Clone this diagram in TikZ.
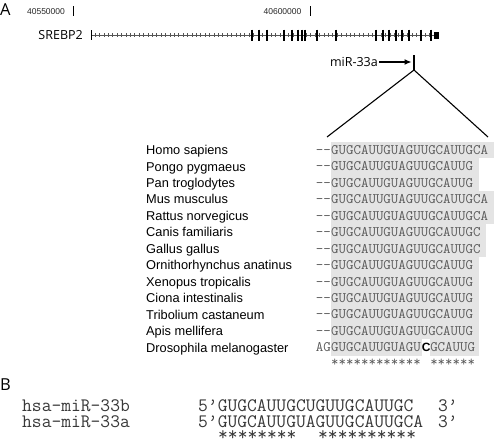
\documentclass[tikz,border=0pt]{standalone}
\usepackage{fontspec}
\setmainfont{Liberation Sans}
\newfontfamily\osans{Open Sans}
\newfontfamily\arialf{Liberation Sans}
\usetikzlibrary{arrows.meta}
\definecolor{seqgray}{HTML}{5A5A5A}
\definecolor{hlgray}{HTML}{E4E4E4}
\definecolor{bgray}{HTML}{383838}
\definecolor{genegray}{HTML}{555555}
\tikzset{
  species/.style={anchor=base west, inner sep=0, font=\arialf\fontsize{12.8}{12.8}\selectfont},
  seq/.style={anchor=base west, inner sep=0, text=seqgray, font=\ttfamily\fontsize{14.5}{14.5}\selectfont},
  bseq/.style={anchor=base west, inner sep=0, text=bgray, font=\ttfamily\fontsize{19}{19}\selectfont},
  panel/.style={anchor=base west, inner sep=0, font=\osans\fontsize{16.5}{16.5}\selectfont},
  glabel/.style={inner sep=0, font=\osans\fontsize{12.5}{12.5}\selectfont},
  coordlab/.style={inner sep=0, text=black!85, font=\arialf\fontsize{8.5}{8.5}\selectfont},
  backbone/.style={draw=genegray, line width=0.8pt},
  strandtick/.style={draw=genegray, line width=0.6pt},
  exon/.style={draw=black, line width=1.1pt},
  bigexon/.style={draw=black, line width=2.2pt},
  fan/.style={draw=black, line width=1.1pt},
  pointer/.style={draw=black, line width=1.2pt, -{Latex[length=7pt,width=6pt]}},
}
\begin{document}
\begin{tikzpicture}[x=1pt,y=-1pt]
\useasboundingbox (0,0) rectangle (496,442);
% panel labels
\node[panel] (pA) at (0,15) {A};
\node[panel] (pB) at (0,390) {B};
% genomic coordinates
\node[coordlab] (c1) at (46,12) {40550000};
\draw[line width=1pt] (73,6) -- (73,16);
\node[coordlab] (c2) at (282.5,12) {40600000};
\draw[line width=1pt] (310,6) -- (310,16);
% gene
\node[glabel, anchor=base east] (gene) at (83,39.5) {SREBP2};
\coordinate (g0) at (91,35);
\coordinate (g1) at (436,35);
\draw[backbone] (g0) -- (g1);
\foreach \x in {95,99.4,...,433} \draw[strandtick] (\x,33.2) -- (\x,36.8);
\draw[line width=1.6pt] (91.5,30) -- (91.5,40);
\foreach \x in {259,267,284,298,302,305,336,376,383,389,396,402,409,421,431}
  \draw[exon] (\x,29.5) -- (\x,40.5);
\foreach \x in {252,292,317}
  \draw[bigexon] (\x,29.5) -- (\x,40.5);
\fill (434,31.5) rectangle (438.5,38.5);
% miR-33a marker
\node[glabel, anchor=east] (mir) at (378,62) {miR-33a};
\coordinate (ticktop) at (414,55);
\coordinate (apex) at (414,70);
\coordinate (arrowend) at (411.5,62);
\coordinate (fanL) at (327,137);
\coordinate (fanR) at (488,137);
\draw[pointer] ([xshift=1pt]mir.east) -- (arrowend);
\draw[line width=1.2pt] (ticktop) -- (apex);
\draw[fan] (apex) -- (fanL);
\draw[fan] (apex) -- (fanR);
% alignment
\foreach \i/\sp/\sq/\n in {
  0/Homo sapiens/GUGCAUUGUAGUUGCAUUGCA/21,
  1/Pongo pygmaeus/GUGCAUUGUAGUUGCAUUG/19,
  2/Pan troglodytes/GUGCAUUGUAGUUGCAUUG/19,
  3/Mus musculus/GUGCAUUGUAGUUGCAUUGCA/21,
  4/Rattus norvegicus/GUGCAUUGUAGUUGCAUUGCA/21,
  5/Canis familiaris/GUGCAUUGUAGUUGCAUUGC/20,
  6/Gallus gallus/GUGCAUUGUAGUUGCAUUGC/20,
  7/Ornithorhynchus anatinus/GUGCAUUGUAGUUGCAUUG/19,
  8/Xenopus tropicalis/GUGCAUUGUAGUUGCAUUG/19,
  9/Ciona intestinalis/GUGCAUUGUAGUUGCAUUG/19,
  10/Tribolium castaneum/GUGCAUUGUAGUUGCAUUG/19,
  11/Apis mellifera/GUGCAUUGUAGUUGCAUUG/19}
{
  \pgfmathsetmacro\y{150+16.45*\i}
  \fill[hlgray] (330.5,{\y-8.23}) rectangle ({331+\n*7.62+3},{\y+8.23});
  \node[species] (sp\i) at (146,{\y+4.6}) {\sp};
  \node[seq] (dash\i) at (315.76,{\y+4.45}) {-{}-};
  \node[seq] (sq\i) at (331,{\y+4.45}) {\sq};
}
% Drosophila row
\fill[hlgray] (330.5,339.17) rectangle (478.8,355.63);
\fill[white] (422.44,339.17) rectangle (430.06,355.63);
\node[species] (sp12) at (146,352) {Drosophila melanogaster};
\node[seq] (dash12) at (315.76,351.85) {AG};
\node[seq] (sq12a) at (331,351.85) {GUGCAUUGUAGU};
\node[anchor=base, inner sep=0, font=\arialf\bfseries\fontsize{12}{12}\selectfont] (mm) at (426.25,351.9) {C};
\node[seq] (sq12b) at (430.06,351.85) {GCAUUG};
% conservation stars A
\node[seq] (starsA1) at (331,366) {************};
\node[seq] (starsA2) at (430.06,366) {******};
% panel B
\node[bseq] (b1lab) at (22,411.8) {hsa-miR-33b};
\node[bseq] (b1seq) at (198,411.8) {5’GUGCAUUGCUGUUGCAUUGC};
\node[bseq] (b1end) at (438,411.8) {3’};
\node[bseq] (b2lab) at (22,427.8) {hsa-miR-33a};
\node[bseq] (b2seq) at (198,427.8) {5’GUGCAUUGUAGUUGCAUUGCA};
\node[bseq] (b2end) at (438,427.8) {3’};
\node[bseq] (bst1) at (218,440.5) {********};
\node[bseq] (bst2) at (318,440.5) {**********};
\end{tikzpicture}
\end{document}
